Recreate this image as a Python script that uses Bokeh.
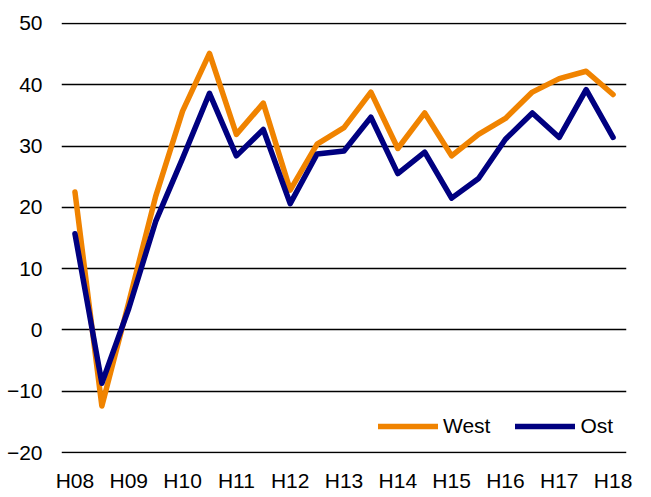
from bokeh.plotting import figure
from bokeh.models import Range1d, FixedTicker, Legend, LegendItem
from bokeh.embed import file_html
from bokeh.resources import INLINE

periods = ["H08", "", "H09", "", "H10", "", "H11", "", "H12", "", "H13", "",
           "H14", "", "H15", "", "H16", "", "H17", "", "H18"]
west = [22.5, -12.4, 4.5, 21.8, 35.7, 45.1, 31.9, 37.0, 22.8, 30.3, 33.0,
        38.8, 29.6, 35.4, 28.4, 31.9, 34.5, 38.8, 41.0, 42.2, 38.4]
ost = [15.7, -8.7, 3.5, 17.7, 28.0, 38.6, 28.4, 32.7, 20.6, 28.7, 29.2,
       34.7, 25.5, 29.0, 21.5, 24.7, 31.1, 35.4, 31.4, 39.2, 31.4]
y_ticks = [-20, -10, 0, 10, 20, 30, 40, 50]

FONT = "Liberation Sans"
xs = list(range(len(periods)))

p = figure(width=635, height=494, output_backend="svg", toolbar_location=None,
           x_range=Range1d(-0.5, len(periods) - 0.5),
           y_range=Range1d(-20.15, 50.15),
           min_border_left=61, min_border_right=9, min_border_top=22,
           min_border_bottom=39)
p.outline_line_color = None
p.background_fill_color = "white"

p.xgrid.visible = False
p.ygrid.grid_line_color = "black"
p.ygrid.grid_line_width = 1.3
p.yaxis.ticker = FixedTicker(ticks=y_ticks)
p.ygrid.ticker = FixedTicker(ticks=y_ticks)

p.xaxis.ticker = FixedTicker(ticks=[i for i, s in enumerate(periods) if s])
p.xaxis.major_label_overrides = {i: s for i, s in enumerate(periods) if s}

for ax in (p.xaxis[0], p.yaxis[0]):
    ax.axis_line_color = None
    ax.major_tick_line_color = None
    ax.minor_tick_line_color = None
    ax.major_tick_out = 0
    ax.major_tick_in = 0
    ax.major_label_text_font = FONT
    ax.major_label_text_font_size = "21px"
    ax.major_label_text_color = "black"
p.yaxis.major_label_standoff = 19
p.xaxis.major_label_standoff = 15

rw = p.line(xs, west, line_color="#F08300", line_width=5.5,
            line_join="round", line_cap="round")
ro = p.line(xs, ost, line_color="#000080", line_width=5.5,
            line_join="round", line_cap="round")

legend = Legend(items=[LegendItem(label="West", renderers=[rw]),
                       LegendItem(label="Ost", renderers=[ro])],
                orientation="horizontal", location=(317, 15),
                border_line_color=None, background_fill_alpha=0,
                margin=0, padding=0, spacing=25, glyph_width=60,
                glyph_height=20, label_standoff=5, label_height=20,
                label_text_font=FONT, label_text_font_size="21px",
                label_text_color="black")
p.add_layout(legend, "center")

open("out.html", "w").write(file_html(p, INLINE))
